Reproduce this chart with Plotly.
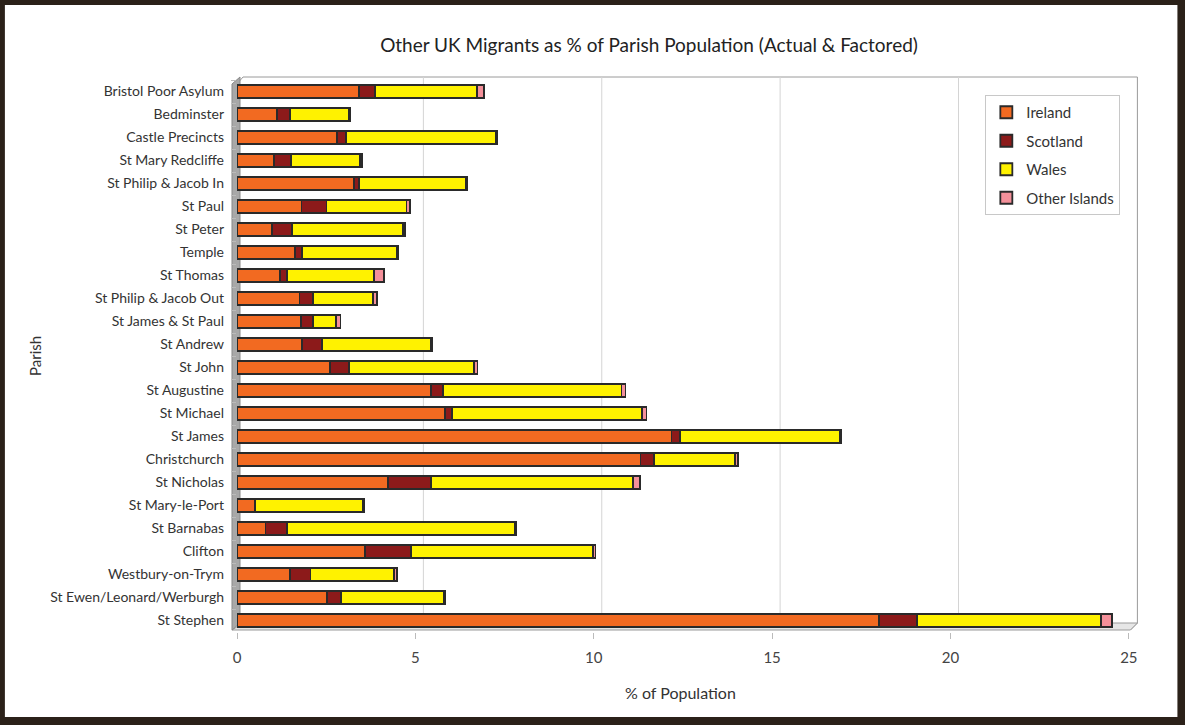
import plotly.graph_objects as go

# parishes, top to bottom as in the chart
parishes = ['Bristol Poor Asylum', 'Bedminster', 'Castle Precincts', 'St Mary Redcliffe',
            'St Philip & Jacob In', 'St Paul', 'St Peter', 'Temple', 'St Thomas',
            'St Philip & Jacob Out', 'St James & St Paul', 'St Andrew', 'St John',
            'St Augustine', 'St Michael', 'St James', 'Christchurch', 'St Nicholas',
            'St Mary-le-Port', 'St Barnabas', 'Clifton', 'Westbury-on-Trym',
            'St Ewen/Leonard/Werburgh', 'St Stephen']

# % of parish population born elsewhere in the UK
ireland = [3.42, 1.12, 2.80, 1.04, 3.29, 1.81, 0.97, 1.62, 1.20, 1.75, 1.79, 1.83, 2.60,
           5.43, 5.83, 12.18, 11.31, 4.23, 0.50, 0.80, 3.59, 1.48, 2.53, 17.99]
scotland = [0.45, 0.36, 0.25, 0.48, 0.14, 0.70, 0.57, 0.21, 0.21, 0.37, 0.35, 0.56, 0.54,
            0.35, 0.20, 0.24, 0.39, 1.20, 0.00, 0.61, 1.29, 0.58, 0.39, 1.07]
wales = [2.86, 1.65, 4.20, 1.93, 2.98, 2.24, 3.12, 2.66, 2.43, 1.70, 0.63, 3.05, 3.51,
         5.00, 5.33, 4.47, 2.27, 5.68, 3.04, 6.38, 5.09, 2.35, 2.88, 5.15]
other_islands = [0.20, 0.05, 0.05, 0.05, 0.03, 0.09, 0.05, 0.03, 0.27, 0.11, 0.13, 0.03, 0.09,
                 0.11, 0.12, 0.05, 0.08, 0.18, 0.03, 0.04, 0.08, 0.07, 0.03, 0.32]

x_ticks = [0, 5, 10, 15, 20, 25]

series = [
    ('Ireland', ireland, '#F26A21'),
    ('Scotland', scotland, '#8C1A1A'),
    ('Wales', wales, '#FFF200'),
    ('Other Islands', other_islands, '#F4909A'),
]

fig = go.Figure()
for name, vals, col in series:
    fig.add_trace(go.Bar(
        y=parishes, x=vals, name=name, orientation='h', legendgroup=name,
        marker=dict(color=col, line=dict(color='#2a2a2a', width=1.8)),
    ))

# page geometry (px) -> paper fractions
L, R, T, B = 237, 1135.6, 80, 632
def px(x):
    return (x - L) / (R - L)
def py(y):
    return (B - y) / (B - T)

shapes = [
    # white card inside the dark frame
    dict(type='rect', xref='paper', yref='paper', x0=px(5), x1=px(1177), y0=py(717), y1=py(5),
         fillcolor='white', line=dict(width=0), layer='below'),
    # back wall outline
    dict(type='path', xref='paper', yref='paper', layer='below',
         path=f'M {px(237)},{py(84)} L {px(243)},{py(77)} L {px(1137)},{py(77)} L {px(1137)},{py(623)} L {px(1130)},{py(630)}',
         line=dict(color='#9a9a9a', width=1)),
    # floor
    dict(type='path', xref='paper', yref='paper', layer='below',
         path=f'M {px(232)},{py(630)} L {px(1130)},{py(630)} L {px(1137)},{py(623)} L {px(243)},{py(623)} Z',
         fillcolor='#e6e6e6', line=dict(color='#9a9a9a', width=1)),
    # left wall
    dict(type='path', xref='paper', yref='paper', layer='below',
         path=f'M {px(232)},{py(84)} L {px(240)},{py(77)} L {px(240)},{py(623)} L {px(232)},{py(630)} Z',
         fillcolor='#a8a8a8', line=dict(color='#8a8a8a', width=1)),
]
# gridlines on the back wall, shifted by the 3D depth
depth = 8 / 35.66
for t in x_ticks[1:-1]:
    shapes.append(dict(type='line', xref='x', yref='paper', x0=t + depth, x1=t + depth,
                       y0=py(623), y1=py(77), line=dict(color='#d4d4d4', width=1), layer='below'))

fig.update_layout(
    width=1185, height=725,
    barmode='stack', bargap=0.43,
    paper_bgcolor='#2b2119', plot_bgcolor='rgba(0,0,0,0)',
    font=dict(family='Lato, Open Sans, sans-serif', color='#333333', size=13),
    margin=dict(l=L, r=1185 - R, t=T, b=725 - B),
    title=dict(text='Other UK Migrants as % of Parish Population (Actual & Factored)',
               x=649 / 1185, xref='container', xanchor='center',
               y=1 - 45 / 725, yref='container', yanchor='middle',
               font=dict(size=19, color='#222222')),
    xaxis=dict(range=[0, 25.2], tickvals=x_ticks, showgrid=False, zeroline=False,
               ticks='outside', ticklen=6, tickcolor='#bbbbbb', ticklabelstandoff=6,
               tickfont=dict(size=15, color='#444444')),
    yaxis=dict(type='category', autorange='reversed', showgrid=False,
               ticks='outside', tickson='boundaries', ticklen=5, tickcolor='#bbbbbb',
               ticklabelstandoff=12, tickfont=dict(size=14, color='#333333')),
    legend=dict(x=px(985), y=py(95), xanchor='left', yanchor='top',
                traceorder='grouped', tracegroupgap=6,
                bordercolor='#c8c8c8', borderwidth=1, bgcolor='white',
                font=dict(size=15, color='#333333')),
    shapes=shapes,
    annotations=[
        dict(text='Parish', xref='paper', yref='paper', x=px(35), y=0.5, textangle=-90,
             xanchor='center', yanchor='middle',
             showarrow=False, font=dict(size=15, color='#333333')),
        dict(text='% of Population', xref='paper', yref='paper', x=px(680), y=py(692),
             xanchor='center', yanchor='middle',
             showarrow=False, font=dict(size=16, color='#333333')),
    ],
)

# drop the default 8px page margin so the figure fills the window exactly
fig.write_html("out.html", config={'displayModeBar': False},
               post_script="document.body.style.margin='0';")
